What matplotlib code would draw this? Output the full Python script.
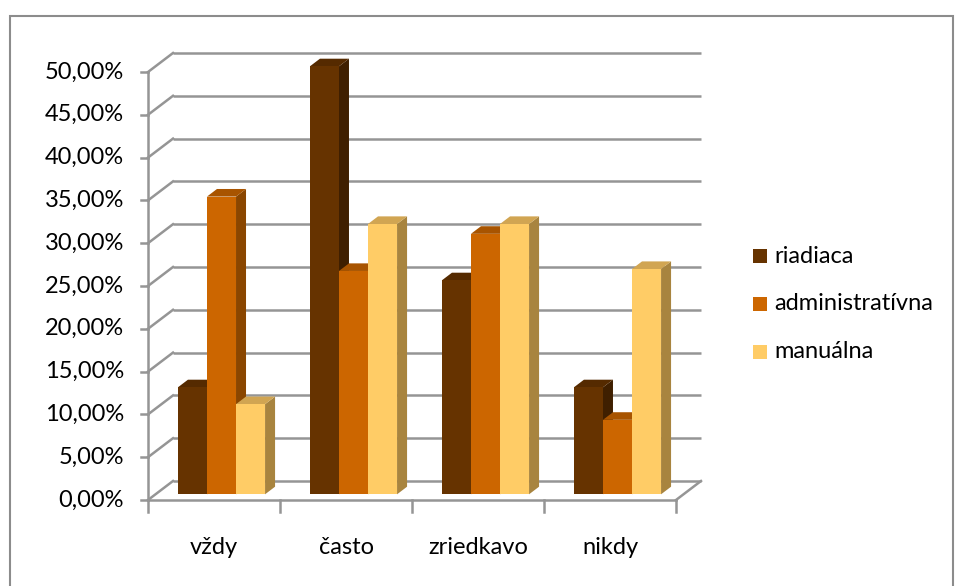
import matplotlib.pyplot as plt
from matplotlib.patches import Polygon, Rectangle

categories = ["vždy", "často", "zriedkavo", "nikdy"]
series = ["riadiaca", "administratívna", "manuálna"]
riadiaca = [12.50, 50.00, 25.00, 12.50]
administrativna = [34.78, 26.09, 30.43, 8.70]
manualna = [10.53, 31.58, 31.58, 26.32]
y_ticks = [0, 5, 10, 15, 20, 25, 30, 35, 40, 45, 50]

values = [riadiaca, administrativna, manualna]
# front / top / side shades for each series
shades = [
    ("#663300", "#552a00", "#3f1f00"),
    ("#cc6600", "#a85400", "#8a4600"),
    ("#ffcc66", "#d1a552", "#a8843f"),
]

plt.rcParams['font.family'] = ['Lato', 'DejaVu Sans']
FS = 17

W, H = 956, 586
fig = plt.figure(figsize=(W / 100, H / 100), dpi=100)
ax = fig.add_axes([0, 0, 1, 1])
ax.axis('off')

# one category = 132 px, one percent = 8.56 px, origin at (148, 500) from top-left
px_x, px_y = 132.0, 8.56
ax.set_xlim(-148 / px_x, (W - 148) / px_x)
ax.set_ylim(-(H - 500) / px_y, 500 / px_y)

# depth offset of the back wall
dx, dy = 25 / px_x, 19 / px_y
n = len(categories)
grid_c = "#959595"
lw = 1.8

for v in y_ticks:
    ax.plot([dx, n + dx], [v + dy, v + dy], color=grid_c, lw=lw, solid_capstyle='butt', zorder=1)
    ax.plot([0, dx], [v, v], color=grid_c, lw=lw, zorder=1) if False else None
    ax.plot([0, dx], [v, v + dy], color=grid_c, lw=lw, zorder=1)
    ax.plot([-0.05, 0], [v, v], color=grid_c, lw=lw, zorder=1)
    ax.text(-0.18, v, f"{v:.2f}".replace(".", ",") + "%", ha='right', va='center',
            fontsize=FS, color="#000000")

# front axis, floor edge, category ticks
ax.plot([0, 0], [0, y_ticks[-1]], color=grid_c, lw=lw, zorder=1)
ax.plot([0, n], [0, 0], color=grid_c, lw=lw, zorder=1)
ax.plot([n, n + dx], [0, dy], color=grid_c, lw=lw, zorder=1)
for i in range(n + 1):
    ax.plot([i, i], [0, -1.4], color=grid_c, lw=lw, zorder=1)
for i, c in enumerate(categories):
    ax.text(i + 0.5, -5.6, c, ha='center', va='center', fontsize=FS)

# 3D bars: front face sits 30% into the depth, bars are 40% deep
f, bd = 0.3, 0.4
bw = 0.22
z = 2
for i in range(n):
    x_start = i + 0.5 - 1.5 * bw
    for s in range(len(series)):
        v = values[s][i]
        front, top, side = shades[s]
        x0 = x_start + s * bw + f * dx
        y0 = f * dy
        x1 = x0 + bw
        y1 = y0 + v
        ox, oy = bd * dx, bd * dy
        ax.add_patch(Polygon([(x1, y0), (x1 + ox, y0 + oy), (x1 + ox, y1 + oy), (x1, y1)],
                             closed=True, facecolor=side, edgecolor='none', zorder=z))
        ax.add_patch(Polygon([(x0, y1), (x0 + ox, y1 + oy), (x1 + ox, y1 + oy), (x1, y1)],
                             closed=True, facecolor=top, edgecolor='none', zorder=z))
        ax.add_patch(Rectangle((x0, y0), bw, v, facecolor=front, edgecolor='none', zorder=z))
        z += 1

# legend
for s, name in enumerate(series):
    ly = 256 + s * 48
    fig.patches.append(Rectangle((753 / W, 1 - (ly + 7) / H), 14 / W, 14 / H,
                                 transform=fig.transFigure, facecolor=shades[s][0],
                                 edgecolor='none'))
    fig.text(774 / W, 1 - ly / H, name, ha='left', va='center', fontsize=FS)

# chart frame
fig.patches.append(Rectangle((10 / W, -0.1), (W - 13) / W, 1.1 - 16 / H,
                             transform=fig.transFigure, facecolor='none',
                             edgecolor="#8c8c8c", lw=1.5))

fig.savefig("out.png", dpi=100)
